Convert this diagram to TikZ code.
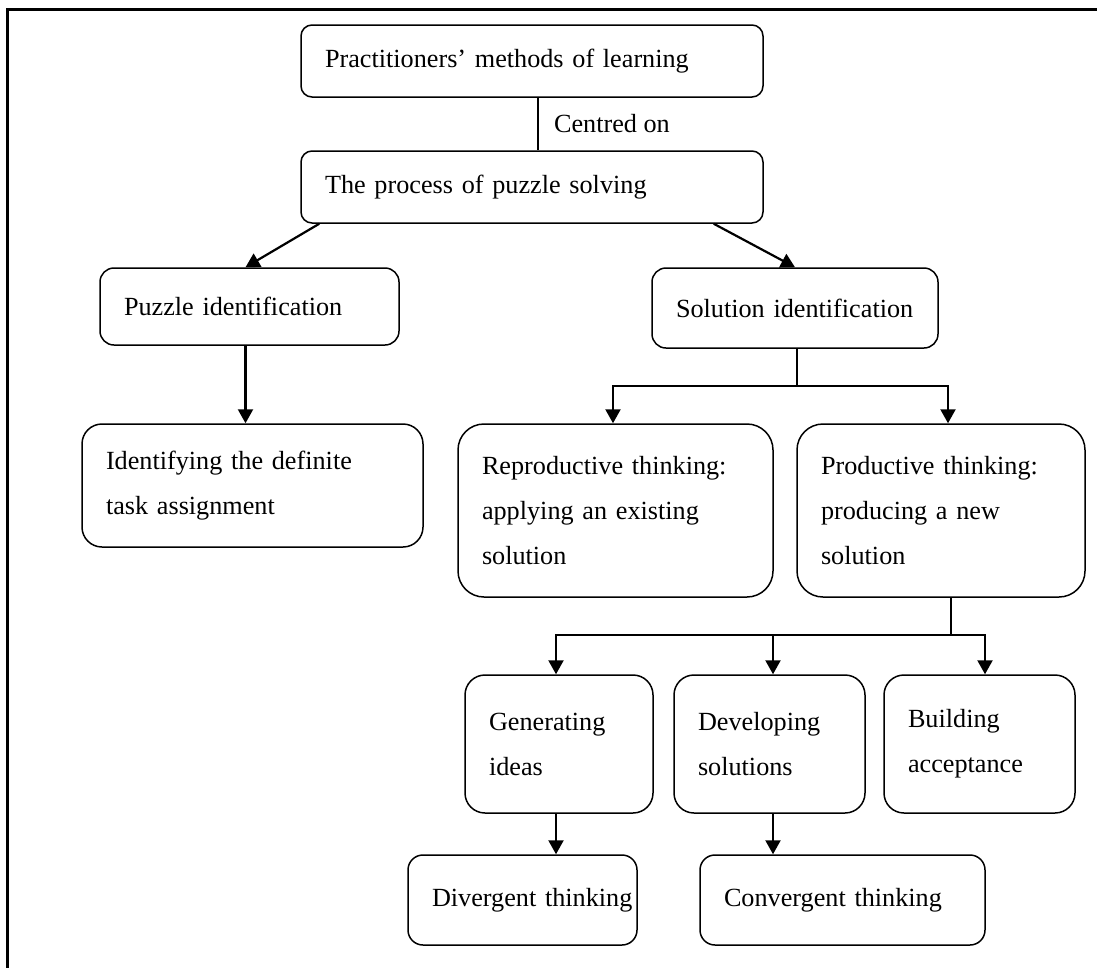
\documentclass[tikz,border=0pt]{standalone}
\usepackage{fontspec}
\setmainfont{Liberation Serif}
\usetikzlibrary{arrows.meta,calc}
\newcommand{\Lb}[1]{\mbox{#1}}
\hbadness=10000 \hfuzz=200pt
\tikzset{
  box/.style={draw, line width=1.5pt, align=left, inner xsep=24pt, inner ysep=0pt,
    font=\fontsize{26.2}{45}\selectfont, anchor=center},
  conn/.style={line width=1.5pt},
  arr/.style={line width=2.2pt, -{Triangle[width=15pt,length=14pt]}},
  frame/.style={line width=3pt}
}
\begin{document}
\begin{tikzpicture}[x=1pt,y=-1pt]
\useasboundingbox (0,0) rectangle (1097,967);
\draw[frame] (7,975) -- (7,9) -- (1105,9);
% boxes
\node[box, rounded corners=11pt, minimum width=462pt, minimum height=72pt, text width=414pt] (b1) at (532,61) {\Lb{Practitioners’ methods of learning}};
\node[box, rounded corners=11pt, minimum width=462pt, minimum height=72pt, text width=414pt] (b2) at (532,187) {\Lb{The process of puzzle solving}};
\node[box, rounded corners=14pt, minimum width=299pt, minimum height=77pt, text width=251pt] (b3) at (249.5,306.5) {\Lb{Puzzle identification}};
\node[box, rounded corners=14pt, minimum width=286pt, minimum height=80pt, text width=238pt] (b4) at (795,308) {\Lb{Solution identification}};
\node[box, rounded corners=20pt, minimum width=341pt, minimum height=123pt, text width=293pt] (b7) at (252.5,485.5) {\Lb{Identifying the definite}\\\Lb{task assignment}};
\node[box, rounded corners=26pt, minimum width=315pt, minimum height=173pt, text width=267pt] (b5) at (615.5,510.5) {\Lb{Reproductive thinking:}\\\Lb{applying an existing}\\\Lb{solution}};
\node[box, rounded corners=26pt, minimum width=288pt, minimum height=173pt, text width=240pt] (b6) at (941,510.5) {\Lb{Productive thinking:}\\\Lb{producing a new}\\\Lb{solution}};
\node[box, rounded corners=20pt, minimum width=188pt, minimum height=138pt, text width=140pt] (g) at (559,744) {\Lb{Generating}\\\Lb{ideas}};
\node[box, rounded corners=20pt, minimum width=191pt, minimum height=138pt, text width=143pt] (d) at (769.5,744) {\Lb{Developing}\\\Lb{solutions}};
\node[box, rounded corners=20pt, minimum width=191pt, minimum height=138pt, text width=143pt] (bu) at (979.5,744) {\Lb{Building}\\\Lb{acceptance}};
\node[box, rounded corners=15pt, minimum width=229pt, minimum height=90pt, text width=181pt] (dv) at (522.5,900) {\Lb{Divergent thinking}};
\node[box, rounded corners=15pt, minimum width=285pt, minimum height=90pt, text width=237pt] (cv) at (842.5,900) {\Lb{Convergent thinking}};
% connectors
\draw[conn] ([xshift=6pt]b1.south) -- ([xshift=6pt]b2.north) node[pos=0.5, anchor=west, xshift=12pt, font=\fontsize{26.2}{45}\selectfont] (lab) {Centred on};
\draw[arr] ([xshift=19pt]b2.south west) -- ([xshift=-4pt]b3.north);
\draw[arr] ([xshift=-50pt]b2.south east) -- (b4.north);
\draw[arr] ([xshift=-4pt]b3.south) -- ([xshift=-4pt]b3.south |- b7.north);
\draw[conn] ([xshift=2pt]b4.south) -- ++(0,37) coordinate (f1);
\draw[arr] (f1) -| ([xshift=-2.5pt]b5.north);
\draw[arr] (f1) -| ([xshift=7pt]b6.north);
\draw[conn] ([xshift=10pt]b6.south) -- ++(0,37) coordinate (f2);
\draw[arr] (f2) -| ([xshift=-3pt]g.north);
\draw[arr] (f2) -| ([xshift=3.5pt]d.north);
\draw[arr] (f2) -| ([xshift=5.5pt]bu.north);
\draw[arr] ([xshift=-3pt]g.south) -- ([xshift=-3pt]g.south |- dv.north);
\draw[arr] ([xshift=3.5pt]d.south) -- ([xshift=3.5pt]d.south |- cv.north);
\end{tikzpicture}
\end{document}
